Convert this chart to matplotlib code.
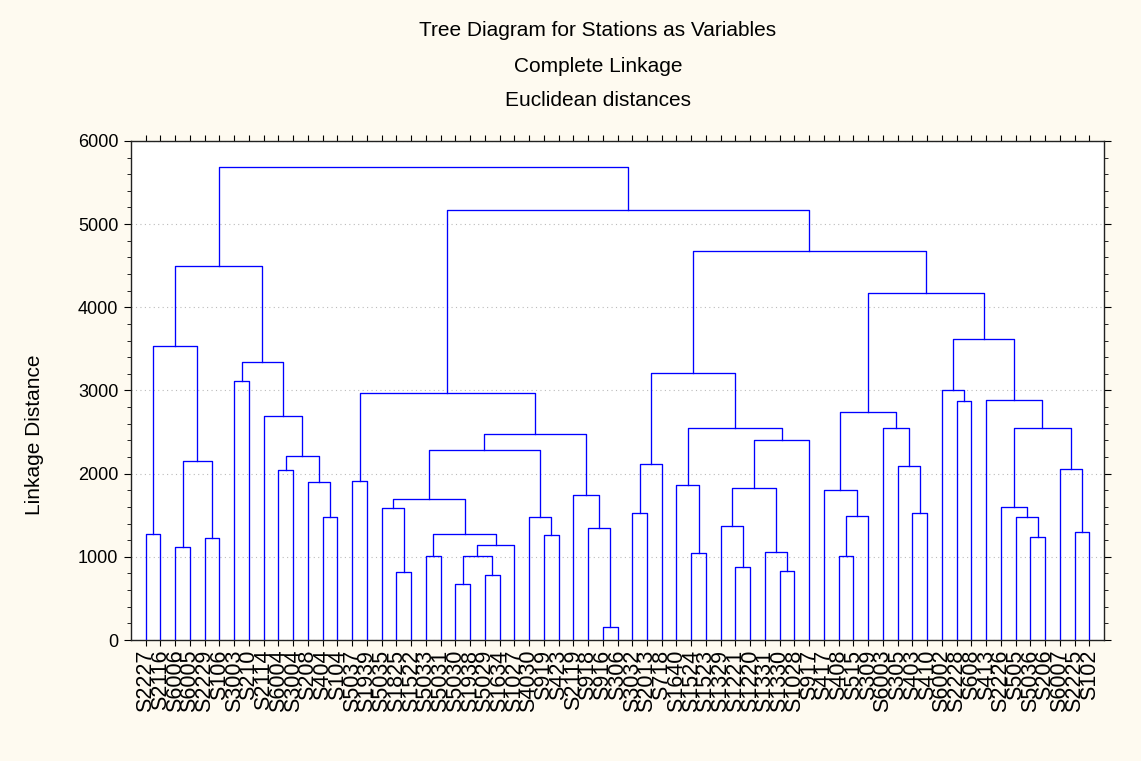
import matplotlib
matplotlib.use('Agg')
import matplotlib.pyplot as plt
from matplotlib.ticker import MultipleLocator

plt.rcParams['font.family'] = ['Liberation Sans', 'DejaVu Sans']

# station names in leaf order (left to right)
labels = ['S2227', 'S2116', 'S6006', 'S6005', 'S2229', 'S106', 'S3003', 'S210',
          'S2114', 'S6004', 'S3004', 'S208', 'S404', 'S104', 'S5037', 'S1939',
          'S5035', 'S1825', 'S1522', 'S5033', 'S5031', 'S5030', 'S1938', 'S5029',
          'S1634', 'S1027', 'S4030', 'S919', 'S423', 'S2119', 'S918', 'S916',
          'S306', 'S3032', 'S2013', 'S718', 'S1640', 'S1524', 'S1523', 'S1329',
          'S1221', 'S1220', 'S1331', 'S1330', 'S1028', 'S917', 'S417', 'S408',
          'S515', 'S309', 'S6003', 'S305', 'S403', 'S410', 'S6002', 'S2228',
          'S608', 'S413', 'S2226', 'S505', 'S5036', 'S206', 'S6007', 'S2225',
          'S102']

# merges: leaves are 0..64, merge k makes node 65+k
left_child = [0, 2, 4, 66, 65, 6, 9, 12, 11, 71, 8, 70, 69,
              14, 17, 16, 19, 21, 23, 82, 84, 81, 80, 27, 26, 87, 31, 30, 29, 90, 78,
              33, 96, 37, 36, 40, 39, 43, 42, 101, 104, 99, 97,
              47, 108, 46, 52, 51, 50, 110, 55, 54, 60, 59, 58, 63, 62, 119, 57,
              116, 114, 107, 95, 77]
right_child = [1, 3, 5, 67, 68, 7, 10, 13, 72, 73, 74, 75, 76,
               15, 18, 79, 20, 22, 24, 83, 25, 85, 86, 28, 88, 89, 32, 91, 92, 93, 94,
               34, 35, 38, 98, 41, 100, 44, 102, 103, 45, 105, 106,
               48, 49, 109, 53, 111, 112, 113, 56, 115, 61, 117, 118, 64, 120, 121, 122,
               123, 124, 125, 126, 127]
link_dist = [1276, 1116, 1228, 2156, 3532, 3116, 2044, 1476, 1900, 2212, 2688, 3348, 4500,
             1916, 820, 1588, 1008, 668, 780, 1008, 1140, 1276, 1692, 1260, 1476, 2284,
             156, 1352, 1744, 2476, 2968,
             1528, 2120, 1048, 1868, 880, 1368, 824, 1056, 1824, 2404, 2552, 3212,
             1004, 1488, 1800, 1524, 2092, 2552, 2740, 2876, 3004, 1240, 1480, 1604,
             1296, 2052, 2552, 2884, 3624, 4176, 4680, 5168, 5692]

fig = plt.figure(figsize=(11.41, 7.61), dpi=100, facecolor='#FEFAF0')
ax = fig.add_axes([0.1148, 0.159, 0.8528, 0.6558])
ax.set_facecolor('white')

n = len(labels)
xpos = {i: i + 1 for i in range(n)}
ypos = {i: 0.0 for i in range(n)}
for k in range(len(link_dist)):
    a, b, h = left_child[k], right_child[k], link_dist[k]
    ax.plot([xpos[a], xpos[a], xpos[b], xpos[b]], [ypos[a], h, h, ypos[b]],
            color='#0000FF', lw=0.95, zorder=3)
    xpos[n + k] = (xpos[a] + xpos[b]) / 2
    ypos[n + k] = h

ax.set_xlim(0, n + 1)
ax.set_ylim(0, 6000)
ax.set_xticks(range(1, n + 1))
ax.set_xticklabels(labels, rotation=90, fontsize=15.5)
ax.yaxis.set_major_locator(MultipleLocator(1000))
ax.yaxis.set_minor_locator(MultipleLocator(200))
ax.tick_params(axis='y', which='major', labelsize=13, direction='out', length=5,
               left=True, right=True, pad=4)
ax.tick_params(axis='y', which='minor', direction='out', length=3, left=True, right=True)
ax.tick_params(axis='x', direction='out', length=4, top=True, bottom=True, pad=3)
ax.grid(axis='y', linestyle=(0, (1, 3)), color='#BBBBBB', lw=0.8)
ax.set_axisbelow(True)
for s in ax.spines.values():
    s.set_linewidth(1.0)
    s.set_color('#222222')

fig.text(35 / 1141, 1 - 435 / 761, 'Linkage Distance', rotation=90,
         ha='center', va='center', fontsize=15)

tx = 598 / 1141
fig.text(tx, 1 - 30 / 761, 'Tree Diagram for Stations as Variables', ha='center', va='center', fontsize=15)
fig.text(tx, 1 - 66 / 761, 'Complete Linkage', ha='center', va='center', fontsize=15)
fig.text(tx, 1 - 100 / 761, 'Euclidean distances', ha='center', va='center', fontsize=15)

fig.savefig('out.png', dpi=100, facecolor=fig.get_facecolor())
